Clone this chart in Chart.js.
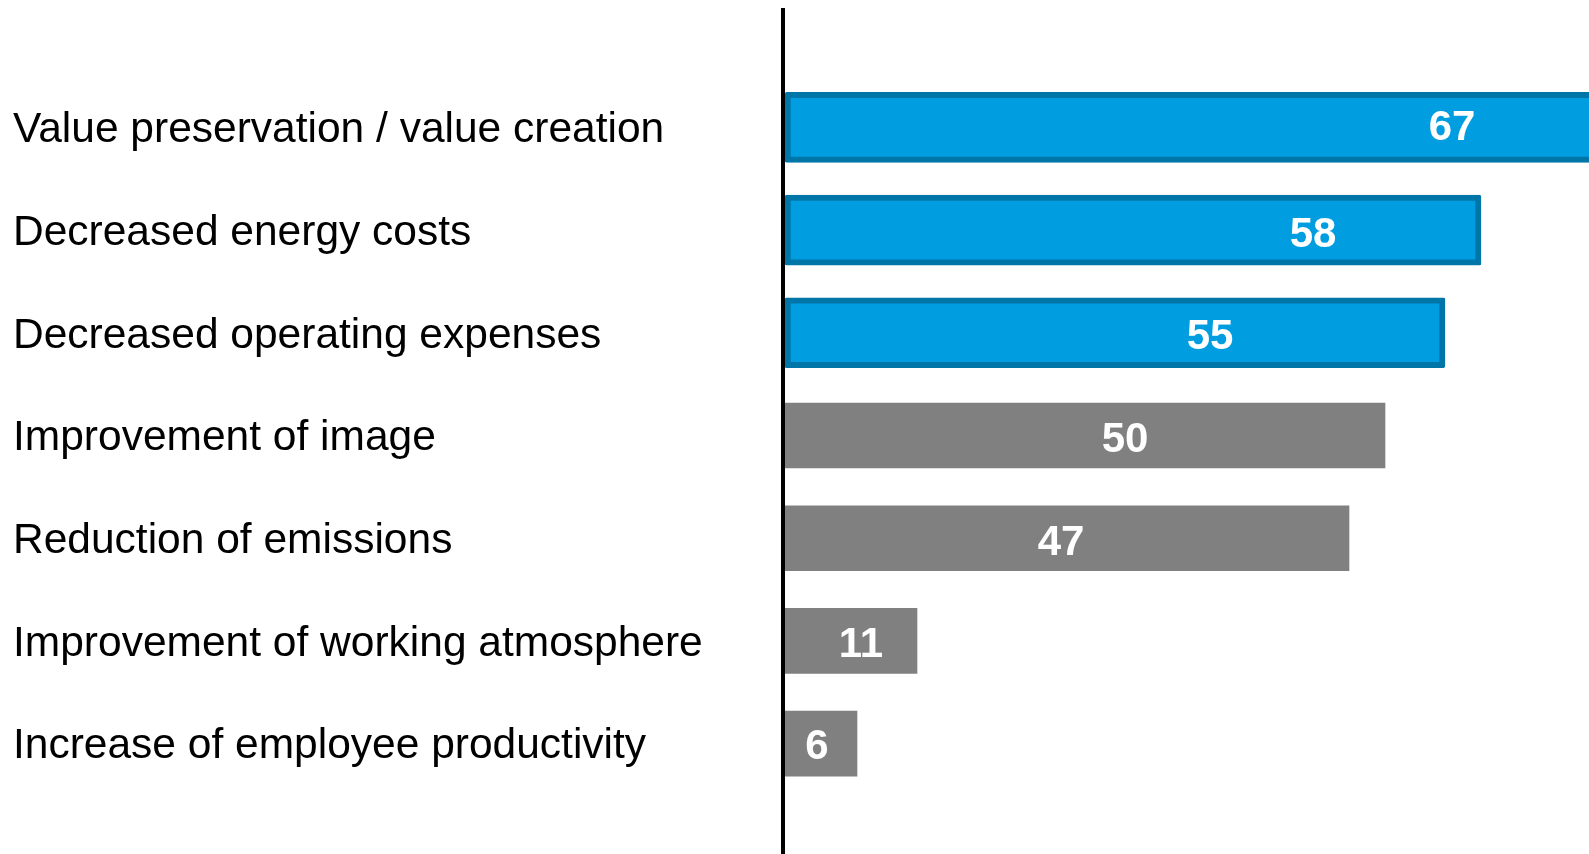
<!DOCTYPE html>
<html>
<head>
<meta charset="utf-8">
<script src="https://cdn.jsdelivr.net/npm/chart.js@4/dist/chart.umd.min.js"></script>
<style>
  html, body { margin: 0; padding: 0; background: #ffffff; overflow: hidden; }
  #wrap { width: 1589px; height: 854px; }
</style>
</head>
<body>
<div id="wrap"><canvas id="chart" width="1589" height="854"></canvas></div>
<script>
// Benefits named, share of respondents
const categories = [
  'Value preservation / value creation',
  'Decreased energy costs',
  'Decreased operating expenses',
  'Improvement of image',
  'Reduction of emissions',
  'Improvement of working atmosphere',
  'Increase of employee productivity'
];
const values = [67, 58, 55, 50, 47, 11, 6];
const highlightedCount = 3;   // the first three items are emphasised in blue

const blueValues = values.map((v, i) => (i < highlightedCount ? v : null));
const greyValues = values.map((v, i) => (i < highlightedCount ? null : v));

// Value labels sit inside each bar, nudged from the bar centre
const valueLabels = {
  id: 'valueLabels',
  afterDatasetsDraw(chart, args, opts) {
    const ctx = chart.ctx;
    ctx.save();
    ctx.font = 'bold 42px "Liberation Sans", Arial, sans-serif';
    ctx.fillStyle = '#ffffff';
    ctx.textAlign = 'center';
    ctx.textBaseline = 'middle';
    chart.data.datasets.forEach((ds, di) => {
      const meta = chart.getDatasetMeta(di);
      meta.data.forEach((el, i) => {
        const v = ds.data[i];
        if (v === null || v === undefined) return;
        const cx = (el.x + el.base) / 2 + (opts.shiftX[i] || 0);
        ctx.fillText(String(v), cx, el.y + (opts.shiftY[i] || 0));
      });
    });
    ctx.restore();
  }
};

// Heavy vertical baseline running the full height of the figure
const baseline = {
  id: 'baseline',
  afterDatasetsDraw(chart) {
    const ctx = chart.ctx;
    const x0 = chart.scales.x.getPixelForValue(0);
    ctx.save();
    ctx.fillStyle = '#000000';
    ctx.fillRect(x0 - 4, 8, 4, chart.height - 8);
    ctx.restore();
  }
};

new Chart(document.getElementById('chart'), {
  type: 'bar',
  data: {
    labels: categories,
    datasets: [
      {
        data: blueValues,
        backgroundColor: '#009EE0',
        borderColor: '#0075A8',
        borderWidth: 6,
        borderRadius: 2,
        borderSkipped: (c) => (c.dataIndex === 0 ? 'end' : false),
        barThickness: 70,
        grouped: false
      },
      {
        data: greyValues,
        backgroundColor: '#808080',
        borderWidth: 0,
        barThickness: 65,
        grouped: false
      }
    ]
  },
  options: {
    indexAxis: 'y',
    responsive: false,
    animation: false,
    devicePixelRatio: 1,
    layout: { padding: { left: 13, right: 0, top: 76, bottom: 59 } },
    plugins: {
      legend: { display: false },
      tooltip: { enabled: false },
      valueLabels: {
        shiftX: [265, 180, 95, 40, -6, 10, -4],
        shiftY: [1, 5, 5, 4.5, 5, 4, 4]
      }
    },
    scales: {
      x: {
        display: false,
        min: 0,
        max: 67
      },
      y: {
        grid: { display: false },
        border: { display: false },
        ticks: {
          autoSkip: false,
          crossAlign: 'far',
          padding: 0,
          labelOffset: 3,
          color: '#000000',
          font: { family: '"Liberation Sans", Arial, sans-serif', size: 42.5 }
        },
        afterFit(scale) { scale.width = 785 - 13; }
      }
    }
  },
  plugins: [valueLabels, baseline]
});
</script>
</body>
</html>
